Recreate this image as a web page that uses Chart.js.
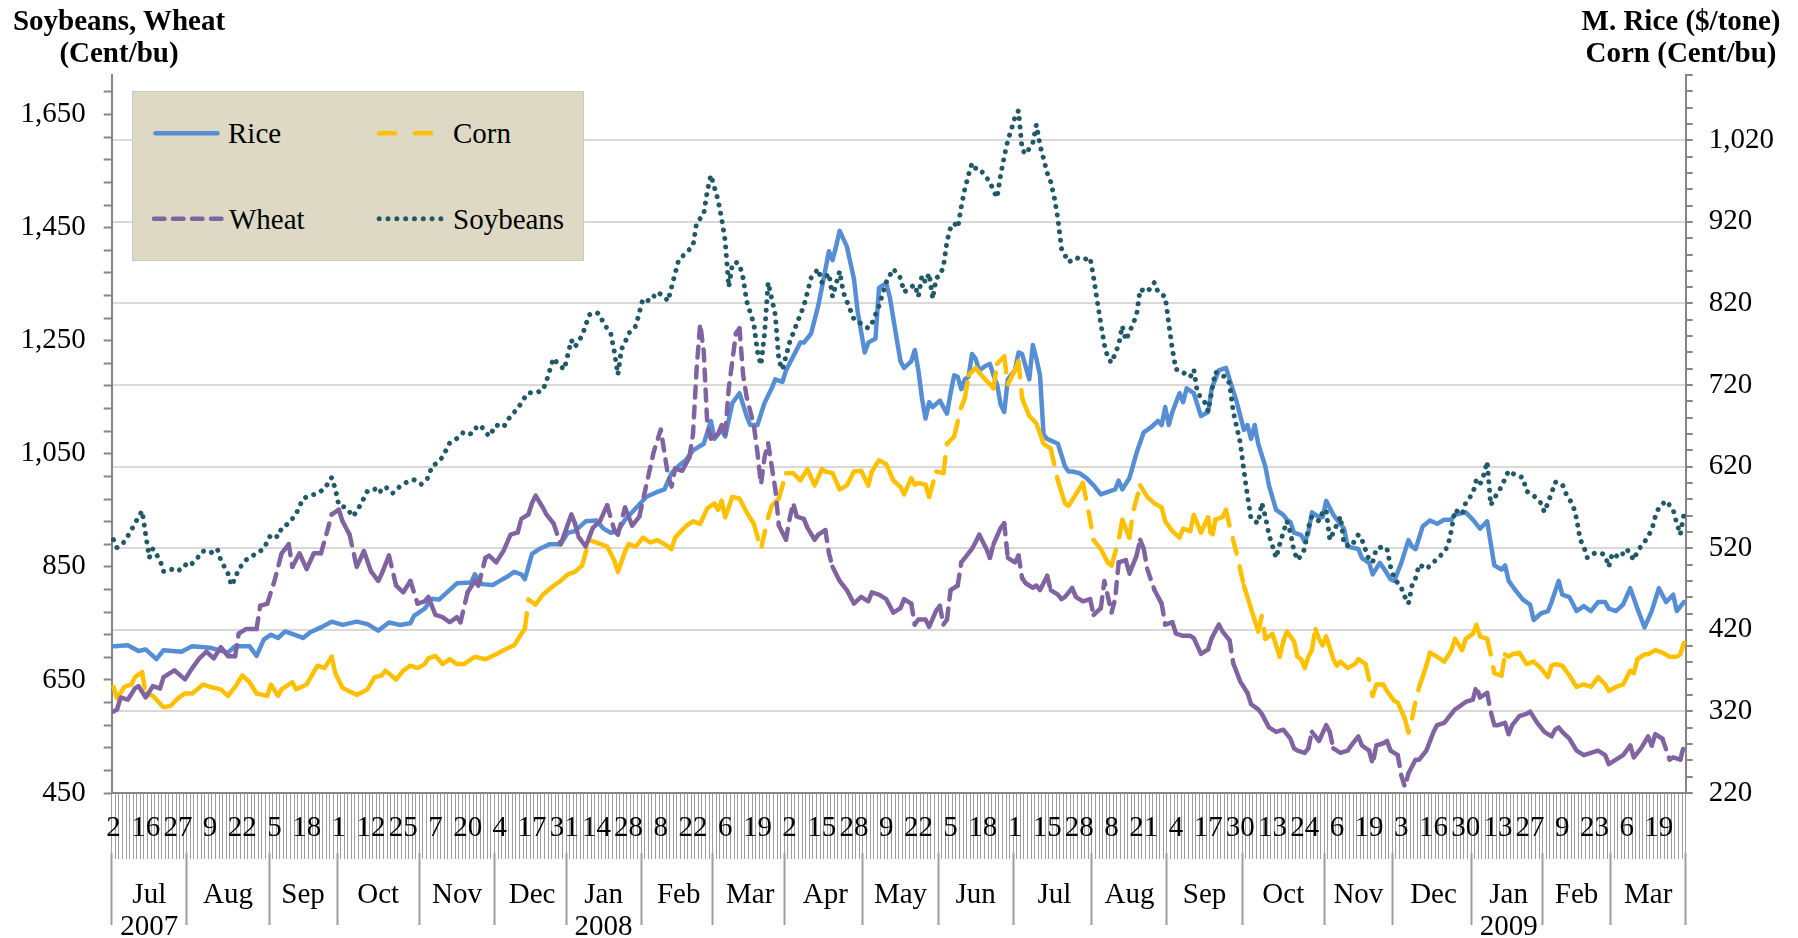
<!DOCTYPE html>
<html>
<head>
<meta charset="utf-8">
<script src="https://cdn.jsdelivr.net/npm/chart.js@4.4.0/dist/chart.umd.min.js"></script>
<style>
  body { margin: 0; background: #fff; }
  #wrap { position: relative; width: 1798px; height: 938px; font-family: 'Liberation Serif', 'Times New Roman', serif; color: #000; }
  #chart { position: absolute; left: 0; top: 0; }
  .axis-title { position: absolute; top: 4px; font-weight: bold; font-size: 29px; line-height: 32px; text-align: center; white-space: nowrap; }
  #legendBox { position: absolute; left: 132px; top: 91px; width: 452px; height: 170px; box-sizing: border-box; background: #ddd9c4; border: 1px solid #c8c8c8; }
  #legendLines { position: absolute; left: 0; top: 0; }
  .legend-text { position: absolute; font-size: 29px; line-height: 32px; white-space: nowrap; }
</style>
</head>
<body>
<div id="wrap">
  <canvas id="chart" width="1798" height="938"></canvas>
  <div class="axis-title" style="left:0;width:238px">Soybeans, Wheat<br>(Cent/bu)</div>
  <div class="axis-title" style="left:1561px;width:240px">M. Rice ($/tone)<br>Corn (Cent/bu)</div>
  <div id="legendBox"></div>
  <svg id="legendLines" width="1798" height="300"></svg>
</div>
<script>
// trading days start 2 Jul 2007, US market holidays are skipped
const firstDay = '2007-07-02';
const dayCount = 440;
const holidays = ['2007-07-04', '2007-09-03', '2007-11-22', '2007-12-25', '2008-01-01', '2008-01-21',
  '2008-02-18', '2008-03-21', '2008-05-26', '2008-07-04', '2008-09-01', '2008-11-27', '2008-12-25',
  '2009-01-01', '2009-01-19', '2009-02-16'];
const monthNames = ['Jan', 'Feb', 'Mar', 'Apr', 'May', 'Jun', 'Jul', 'Aug', 'Sep', 'Oct', 'Nov', 'Dec'];

const leftLabels = [450, 650, 850, 1050, 1250, 1450, 1650];
const rightLabels = [220, 320, 420, 520, 620, 720, 820, 920, 1020];

// [trading day number, price]
// M. Rice ($/tone), right axis
const rice = [[0,400],[4,401],[7,394],[9,396],[12,384],[14,395],[19,393],[22,400],[27,398],[32,392],[34,400],[38,400],[40,388],[42,408],[44,414],[46,410],[48,418],[53,410],[55,417],[58,423],[61,430],[64,426],[68,430],[71,427],[74,419],[77,429],[80,426],[83,428],[84,437],[87,446],[89,458],[91,457],[96,477],[100,478],[101,488],[103,476],[106,475],
[108,480],[110,485],[112,491],[114,488],[115,482],[117,513],[119,519],[122,525],[125,525],[127,539],[129,541],[132,553],[135,554],[137,544],[139,539],[141,541],[143,555],[146,569],[149,583],[152,589],[154,592],[156,612],[158,621],[160,628],[162,640],[165,648],[167,676],[168,654],[170,665],[171,657],[173,698],[175,710],[177,682],[178,671],[180,671],[182,698],[184,716],[185,727],[187,724],[188,738],[190,755],[192,772],[193,772],[195,783],[197,817],[198,839],[200,884],[201,873],[202,890],[203,909],[205,890],[207,850],[208,811],[210,760],[211,772],[213,777],[214,839],[216,845],[217,828],
[219,775],[220,749],[221,741],[223,749],[224,763],[225,738],[226,704],[227,679],[228,699],[229,693],[231,701],[232,693],[233,685],[234,710],[235,732],[236,730],[237,715],[238,727],[239,730],[240,758],[241,752],[242,738],[244,744],[245,746],[246,732],[247,721],[248,696],[249,687],[250,727],[252,738],[253,760],[254,758],[256,727],[257,769],[258,752],[259,732],[260,659],[261,654],[264,648],[266,620],[267,614],[268,614],[270,612],[272,606],[274,597],[276,586],[278,589],[280,592],[281,603],[282,592],[284,606],[286,637],[288,662],[290,668],[292,676],[293,671],[294,693],[295,671],[296,687],[298,710],[299,699],[300,716],[302,710],[304,682],[306,687],[307,716],[309,738],[311,741],[312,727],[314,699],[316,665],[317,671],[318,654],[319,671],[320,648],[322,620],[323,597],[325,567],[327,561],
[328,555],[329,552],[330,539],[332,536],[333,528],[334,539],[335,564],[337,558],[338,558],[339,578],[341,561],[342,555],[344,544],[345,522],[348,519],[349,508],[351,502],[352,488],[354,502],[355,496],[357,482],[358,480],[360,502],[362,530],[363,522],[364,519],[366,547],[368,554],[370,550],[372,555],[374,555],[375,561],[378,564],[380,555],[382,544],[384,553],[386,499],[388,494],[389,499],[390,480],[392,468],[394,457],[396,451],[397,432],[399,440],[401,443],[402,454],[404,480],[405,463],[407,460],[409,443],[411,449],[413,443],[415,454],[417,454],[418,446],[420,443],[422,451],[424,471],[426,446],[428,423],[430,443],[432,471],[434,454],[436,463],[437,443],[439,454]];

// Corn (Cent/bu), right axis
const corn = [[0,350],[1,336],[3,350],[5,353],[6,362],[8,368],[9,342],[11,339],[14,325],[16,327],[18,336],[20,342],[22,342],[25,353],[27,350],[30,347],[32,339],[34,350],[36,364],[38,356],[40,342],[43,339],[44,353],[46,339],[47,347],[50,356],[51,347],[54,353],[57,376],[59,373],[61,387],[62,367],[64,349],[68,340],[71,347],[73,362],[75,364],[76,370],[79,359],[81,370],[83,376],[85,373],[87,378],[88,385],[90,388],[92,378],[94,384],[96,378],[98,378],[101,387],[104,384],[107,390],[109,395],
[112,401],[114,415],[115,421],[116,457],[118,451],[120,463],[123,474],[125,480],[127,488],[129,491],[131,499],[133,530],[135,527],[138,522],[140,505],[141,491],[143,516],[144,525],[146,522],[148,533],[150,527],[152,530],[154,525],[156,519],[157,533],[160,547],[162,553],[164,550],[166,569],[168,575],[169,567],[170,578],[171,558],[173,583],[175,581],[177,564],[179,550],[181,519],[183,558],[184,572],[186,581],[188,612],[190,612],[192,603],[194,617],[196,597],[198,617],[199,614],[201,612],[203,592],[205,597],[207,614],[209,615],[211,597],[212,614],[214,628],[216,623],[218,603],[220,595],
[221,586],[223,606],[224,598],[225,600],[227,598],[228,583],[230,614],[232,612],[233,648],[235,657],[237,693],[238,704],[239,732],[241,741],[243,730],[245,721],[246,716],[247,746],[249,755],[250,721],[252,738],[253,749],[254,704],[256,682],[258,673],[260,648],[262,642],[264,603],[266,575],[267,572],[269,586],[271,600],[273,555],[274,530],[276,519],[278,502],[279,499],[281,530],[282,555],[284,533],[285,564],[287,597],[289,583],[291,575],[293,570],[294,553],[296,541],[298,533],[299,544],[301,541],[302,561],[304,539],[306,558],[307,530],[308,555],[310,558],[311,567],[312,547],[314,513],[316,474],[318,446],[320,418],[321,437],[322,409],[324,415],[326,387],
[327,406],[328,418],[330,406],[331,387],[332,384],[333,373],[334,387],[335,395],[336,421],[337,409],[338,401],[339,412],[341,384],[342,376],[343,381],[345,373],[347,378],[348,384],[350,378],[351,359],[352,339],[353,353],[355,353],[356,345],[358,333],[359,331],[361,311],[362,294],[363,311],[364,333],[365,350],[367,376],[368,392],[370,387],[372,381],[374,395],[375,409],[377,395],[378,409],[380,415],[381,426],[382,412],[384,409],[385,390],[386,367],[388,364],[389,390],[390,387],[391,390],[393,392],[395,378],[397,381],[399,373],[401,362],[402,376],[403,378],[405,376],[407,364],[409,350],[411,353],[413,350],[415,362],[417,353],[418,345],[420,350],[422,353],[424,370],[425,367],[426,384],[428,390],[429,390],[431,395],[433,392],[435,387],[437,387],[438,390],[439,404]];

// Wheat (Cent/bu), left axis
const wheat = [[0,594],[1,598],[2,619],[4,615],[6,635],[7,639],[9,619],[11,639],[13,635],[14,655],[17,667],[20,651],[22,671],[24,688],[26,700],[28,688],[30,708],[32,692],[34,692],[35,732],[37,740],[40,740],[41,781],[43,785],[45,825],[47,874],[49,890],[50,850],[52,874],[54,846],[56,874],[58,874],[60,919],[61,943],[63,951],[64,931],[66,907],[68,850],[70,878],[72,842],[74,825],[75,838],[77,870],[79,817],[81,805],[83,825],[85,785],[87,789],[88,797],[90,765],[92,761],[94,752],[96,761],[97,752],[99,805],[101,825],[102,817],[104,866],[105,870],[107,858],[109,878],[111,907],
[113,911],[114,935],[116,943],[117,963],[118,976],[120,955],[121,943],[123,927],[125,890],[126,907],[128,943],[129,927],[130,903],[132,886],[134,919],[136,931],[138,959],[140,915],[141,907],[143,955],[144,939],[145,923],[147,939],[149,996],[151,1053],[153,1093],[155,1012],[156,992],[157,1024],[159,1020],[161,1044],[162,1085],[163,1199],[164,1280],[165,1231],[166,1101],[167,1077],[169,1085],[170,1101],[171,1085],[172,1166],[174,1263],[175,1272],[176,1190],[177,1150],[179,1101],[180,1053],[181,996],[182,1044],[183,1069],[184,1028],[185,988],[186,923],[188,898],[189,935],[190,963],[191,939],[193,935],[194,919],[196,898],[197,907],[199,915],[200,874],[201,850],[203,825],[205,809],[207,785],[209,797],[211,789],[212,805],[214,801],[216,793],[218,769],[220,777],
[221,793],[223,785],[224,748],[225,757],[227,757],[228,744],[230,773],[231,781],[232,748],[233,757],[234,809],[236,817],[237,858],[239,874],[240,882],[241,894],[242,907],[244,882],[245,866],[246,890],[248,919],[249,927],[250,866],[252,858],[253,870],[254,830],[255,821],[257,813],[258,817],[259,809],[261,834],[262,809],[264,801],[265,793],[266,797],[268,813],[269,797],[271,789],[273,793],[274,765],[276,777],[277,825],[279,769],[280,793],[281,858],[283,862],[284,838],[286,870],[287,898],[288,882],[289,846],[291,809],[293,785],[294,748],[296,752],[297,732],[299,728],[301,728],[302,724],[304,696],[306,704],[307,724],[309,748],[310,736],[312,720],[313,680],[315,647],[317,627],[318,607],[320,598],[321,590],[323,566],[325,558],[327,562],[329,546],
[330,529],[331,525],[333,521],[334,529],[335,558],[336,550],[337,542],[339,570],[340,558],[341,529],[343,521],[345,525],[346,534],[348,550],[349,534],[351,525],[352,501],[353,534],[355,538],[356,542],[357,525],[359,517],[360,481],[361,461],[362,485],[364,509],[365,509],[367,525],[369,558],[370,570],[372,574],[373,582],[375,598],[376,602],[378,611],[380,615],[381,639],[382,619],[384,627],[385,594],[386,570],[387,570],[389,574],[390,554],[391,570],[393,586],[395,590],[396,594],[398,574],[400,558],[402,550],[403,562],[404,566],[405,558],[407,546],[409,525],[411,517],[413,521],[415,525],[417,517],[418,501],[420,509],[422,517],[424,534],[425,513],[427,529],[429,550],[430,534],[431,554],[433,546],[435,509],[436,513],[438,509],[439,534]];

// Soybeans (Cent/bu), left axis
const soybeans = [[0,898],[1,884],[3,894],[5,915],[6,927],[8,949],[9,907],[10,866],[11,882],[13,862],[14,842],[16,846],[18,842],[20,854],[21,850],[23,862],[25,878],[27,874],[29,882],[30,862],[32,838],[33,817],[34,830],[35,846],[37,862],[39,870],[42,882],[44,907],[46,903],[47,919],[49,927],[51,943],[53,971],[55,976],[57,980],[59,988],[61,1008],[62,988],[63,959],[65,955],[67,939],[69,959],[71,984],[73,988],[74,980],[76,992],[78,980],[80,992],[82,1000],[84,1004],[86,996],[88,1008],[89,1028],[90,1032],[92,1044],[94,1069],[96,1077],[98,1089],[100,1085],[102,1101],[103,1097],[105,1081],[107,1101],
[109,1097],[111,1117],[113,1130],[115,1150],[116,1158],[118,1158],[120,1162],[121,1178],[123,1219],[124,1211],[126,1199],[128,1251],[129,1239],[131,1259],[133,1296],[135,1300],[136,1296],[137,1280],[138,1272],[139,1263],[140,1231],[141,1190],[142,1235],[143,1247],[144,1263],[146,1276],[148,1324],[150,1320],[152,1336],[154,1328],[155,1320],[157,1369],[158,1393],[160,1405],[162,1418],[163,1458],[165,1474],[166,1515],[167,1543],[169,1499],[170,1466],[171,1426],[172,1345],[173,1385],[174,1389],[175,1385],[176,1361],[177,1320],[179,1280],[180,1231],[181,1207],[182,1263],[183,1353],[185,1296],[186,1215],[187,1199],[189,1247],[191,1280],[193,1312],[194,1336],[195,1361],[197,1377],[198,1353],[200,1369],[201,1328],[203,1373],[204,1336],[206,1304],[207,1288],[209,1280],[211,1272],[212,1280],[214,1312],[216,1353],[218,1377],
[220,1361],[221,1336],[223,1345],[224,1349],[225,1328],[226,1365],[227,1353],[228,1369],[229,1324],[230,1361],[231,1365],[232,1381],[233,1426],[234,1450],[235,1458],[236,1450],[237,1487],[238,1519],[239,1543],[240,1564],[241,1555],[242,1555],[243,1547],[245,1531],[246,1515],[247,1503],[248,1543],[249,1576],[250,1604],[251,1624],[252,1645],[253,1657],[254,1588],[255,1580],[257,1600],[258,1632],[259,1596],[260,1572],[261,1547],[262,1531],[263,1503],[264,1466],[265,1413],[266,1401],[267,1389],[269,1397],[271,1393],[273,1397],[274,1361],[275,1320],[276,1280],[277,1243],[278,1219],[279,1211],[281,1243],[282,1276],[283,1251],[285,1280],[286,1296],[287,1341],[289,1336],[291,1353],[292,1336],[294,1328],[295,1280],[296,1235],[297,1199],[298,1199],[299,1194],[301,1186],[302,1199],[303,1158],[305,1142],[306,1125],[308,1195],[309,1190],[311,1186],[312,1174],[313,1125],[315,1069],[316,1020],[317,976],[318,935],[320,927],[321,963],[322,939],[323,907],[325,866],[326,890],
[328,931],[329,911],[330,878],[331,862],[332,870],[333,882],[334,919],[335,939],[337,931],[338,947],[339,951],[340,898],[341,911],[343,939],[344,890],[346,886],[348,907],[349,898],[351,862],[352,858],[353,882],[355,886],[356,882],[357,850],[358,830],[360,813],[361,797],[362,785],[363,817],[364,830],[365,854],[367,846],[369,858],[371,870],[373,886],[374,915],[375,951],[377,943],[378,963],[380,980],[381,1004],[382,996],[383,1012],[384,1036],[385,959],[386,971],[388,992],[390,1020],[391,1016],[392,1012],[394,1008],[395,984],[397,976],[399,963],[400,947],[402,980],[403,1000],[405,996],[406,980],[408,959],[409,935],[410,898],[411,886],[412,866],[414,874],[416,874],[417,870],[418,850],[419,874],[421,866],[423,882],[425,862],[426,878],[428,894],[430,915],[431,939],[432,955],[434,967],[436,951],[437,927],[438,907],[439,943]];

// trading-day calendar
const dates = [];
const cur = new Date(firstDay + 'T00:00:00Z');
while (dates.length < dayCount) {
  const iso = cur.toISOString().slice(0, 10);
  const wd = cur.getUTCDay();
  if (wd !== 0 && wd !== 6 && !holidays.includes(iso)) dates.push(iso);
  cur.setUTCDate(cur.getUTCDate() + 1);
}

// month row: name in the middle of each month, separator at its first day
const monthLabels = new Array(dayCount).fill('');
const monthStart = new Array(dayCount).fill(false);
let s = 0;
for (let i = 1; i <= dayCount; i++) {
  if (i === dayCount || dates[i].slice(0, 7) !== dates[s].slice(0, 7)) {
    const m = +dates[s].slice(5, 7);
    const name = monthNames[m - 1];
    monthLabels[Math.round((s + i - 1) / 2)] = (s === 0 || m === 1) ? [name, dates[s].slice(0, 4)] : name;
    monthStart[s] = true;
    s = i;
  }
}

const leftTicks = [];
for (let v = 450; v <= 1720; v += 40) leftTicks.push(v);
const rightTicks = [];
for (let v = 220; v <= 1100; v += 20) rightTicks.push(v);

const toPoints = pairs => pairs.map(p => ({ x: dates[p[0]], y: p[1] }));

// like Excel: dash gaps only show up where the daily move is long
function steepDash(dash, gap, minLen) {
  return ctx => {
    const days = (ctx.p1.parsed.x - ctx.p0.parsed.x) || 1;
    const len = Math.hypot((ctx.p1.x - ctx.p0.x) / days, (ctx.p1.y - ctx.p0.y) / days);
    return len > minLen ? [dash, gap] : [];
  };
}

const axisGray = '#868686';
Chart.defaults.font.family = "'Liberation Serif', 'Times New Roman', serif";
Chart.defaults.font.size = 29;
Chart.defaults.color = '#000';

const lineBase = { pointRadius: 0, pointHoverRadius: 0, borderWidth: 4.5, tension: 0, fill: false,
  borderCapStyle: 'round', borderJoinStyle: 'round' };

const chart = new Chart(document.getElementById('chart'), {
  type: 'line',
  data: {
    labels: dates,
    datasets: [
      Object.assign({ label: 'Rice', data: toPoints(rice), yAxisID: 'y2', borderColor: '#558ed5', order: 4 }, lineBase),
      Object.assign({ label: 'Corn', data: toPoints(corn), yAxisID: 'y2', borderColor: '#ffc000', order: 3,
        segment: { borderDash: steepDash(16, 13, 13) } }, lineBase),
      Object.assign({ label: 'Wheat', data: toPoints(wheat), yAxisID: 'y', borderColor: '#8064a2', order: 2,
        segment: { borderDash: steepDash(11, 9, 11) } }, lineBase),
      Object.assign({ label: 'Soybeans', data: toPoints(soybeans), yAxisID: 'y', borderColor: '#215968', order: 1,
        borderDash: [0.01, 8.5] }, lineBase, { borderWidth: 5 })
    ]
  },
  options: {
    responsive: false,
    animation: false,
    events: [],
    layout: { padding: { left: 0, right: 0, top: 75, bottom: 0 } },
    plugins: { legend: { display: false }, tooltip: { enabled: false } },
    scales: {
      // day numbers over the dense tick band
      x: {
        type: 'category', offset: true, weight: 0,
        grid: { display: true, drawOnChartArea: false, offset: true, tickLength: 66, tickColor: '#9d9d9d', tickWidth: 1 },
        border: { display: true, color: axisGray, width: 2 },
        ticks: { autoSkip: false, maxRotation: 0, minRotation: 0, padding: -47.4, font: { size: 29, lineHeight: 1.15 },
          callback: (v, i) => i % 9 === 0 ? String(+dates[i].slice(8)) : '' },
        afterFit: sc => { sc.height = 60; }
      },
      // month / year row
      x2: {
        type: 'category', position: 'bottom', offset: true, weight: 1, z: -1,
        grid: { display: true, drawOnChartArea: false, offset: true, tickLength: 72, tickWidth: 2,
          tickColor: ctx => (ctx.index === undefined || monthStart[ctx.index]) ? '#9d9d9d' : 'rgba(0,0,0,0)' },
        border: { display: false },
        ticks: { autoSkip: false, maxRotation: 0, minRotation: 0, padding: -46, font: { size: 29, lineHeight: 32 / 29 },
          callback: (v, i) => monthLabels[i] },
        afterFit: sc => { sc.height = 85; }
      },
      y: {
        position: 'left', min: 450, max: 1720,
        afterBuildTicks: sc => { sc.ticks = leftTicks.map(v => ({ value: v })); },
        grid: { drawOnChartArea: false, tickLength: 8, tickColor: axisGray, tickWidth: 2 },
        border: { color: axisGray, width: 2 },
        ticks: { autoSkip: false, padding: 18, callback: v => leftLabels.includes(v) ? v.toLocaleString('en-US') : '' },
        afterFit: sc => { sc.width = 111.7; }
      },
      y2: {
        position: 'right', min: 220, max: 1100,
        afterBuildTicks: sc => { sc.ticks = rightTicks.map(v => ({ value: v })); },
        grid: { drawOnChartArea: true, lineWidth: 2, tickLength: 7, tickColor: axisGray, tickWidth: 2,
          color: ctx => (ctx.tick && ctx.tick.value > 220 && rightLabels.includes(ctx.tick.value)) ? '#d9d9d9' : 'rgba(0,0,0,0)' },
        border: { color: axisGray, width: 2 },
        ticks: { autoSkip: false, padding: 16, callback: v => rightLabels.includes(v) ? v.toLocaleString('en-US') : '' },
        afterFit: sc => { sc.width = 112.3; }
      }
    }
  }
});

// legend laid out like the original 2 x 2 box
const legendSpots = [
  { label: 'Rice', x1: 155.5, x2: 217.5, y: 133.3, dash: '', tx: 228 },
  { label: 'Corn', x1: 379, x2: 431, y: 133.3, dash: '16 20', tx: 453 },
  { label: 'Wheat', x1: 154, x2: 221.5, y: 218.7, dash: '10.5 8.5', tx: 229 },
  { label: 'Soybeans', x1: 379.2, x2: 441, y: 218.7, dash: '0.01 8.8', tx: 453 }
];
const svg = document.getElementById('legendLines');
const wrap = document.getElementById('wrap');
legendSpots.forEach(spot => {
  const ds = chart.data.datasets.find(d => d.label === spot.label);
  const ln = document.createElementNS('http://www.w3.org/2000/svg', 'line');
  ln.setAttribute('x1', spot.x1); ln.setAttribute('x2', spot.x2);
  ln.setAttribute('y1', spot.y); ln.setAttribute('y2', spot.y);
  ln.setAttribute('stroke', ds.borderColor);
  ln.setAttribute('stroke-width', spot.label === 'Soybeans' ? 5 : 4.5);
  ln.setAttribute('stroke-linecap', 'round');
  if (spot.dash) ln.setAttribute('stroke-dasharray', spot.dash);
  svg.appendChild(ln);
  const t = document.createElement('div');
  t.className = 'legend-text';
  t.style.left = spot.tx + 'px';
  t.style.top = (spot.y - 16) + 'px';
  t.textContent = spot.label;
  wrap.appendChild(t);
});
</script>
</body>
</html>
